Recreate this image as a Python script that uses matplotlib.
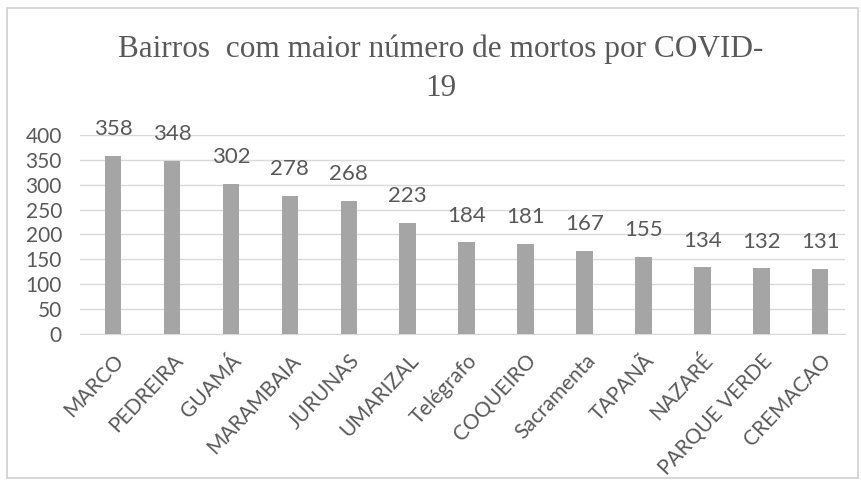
import matplotlib
matplotlib.use("Agg")
import matplotlib.pyplot as plt
from matplotlib.patches import Rectangle

bairros = ["MARCO", "PEDREIRA", "GUAMÁ", "MARAMBAIA", "JURUNAS", "UMARIZAL",
           "Telégrafo", "COQUEIRO", "Sacramenta", "TAPANÃ", "NAZARÉ",
           "PARQUE VERDE", "CREMACAO"]
mortos = [358, 348, 302, 278, 268, 223, 184, 181, 167, 155, 134, 132, 131]
yticks = [0, 50, 100, 150, 200, 250, 300, 350, 400]
titulo = "Bairros  com maior número de mortos por COVID-\n19"

text_color = "#595959"
bar_color = "#a5a5a5"
grid_color = "#d9d9d9"
label_font = ["Lato", "DejaVu Sans"]

fig = plt.figure(figsize=(8.62, 4.91), dpi=100)
fig.patch.set_facecolor("white")

# chart frame
fig.add_artist(Rectangle((7 / 862, 13 / 491), 851 / 862, 470 / 491,
                         transform=fig.transFigure, fill=False,
                         edgecolor="#d0d0d0", linewidth=1.2))

ax = fig.add_axes([80 / 862, 1 - 334 / 491, 765 / 862, 199 / 491])
x = list(range(len(bairros)))
ax.bar(x, mortos, width=0.28, color=bar_color, zorder=3)

for xi, v in zip(x, mortos):
    ax.annotate(str(v), (xi, v), xytext=(0, 12), textcoords="offset points",
                ha="center", va="bottom", fontsize=16, color=text_color,
                family=label_font, zorder=4)

ax.set_ylim(0, 400)
ax.set_xlim(-0.56, 12.42)
ax.set_yticks(yticks)
ax.set_yticklabels([str(t) for t in yticks], fontsize=15, color=text_color,
                   family=label_font)
ax.set_xticks(x)
ax.set_xticklabels(bairros, rotation=47, ha="right", rotation_mode="anchor",
                   fontsize=15, color=text_color, family=label_font)
ax.tick_params(axis="x", length=0, pad=12)
ax.tick_params(axis="y", length=0, pad=13)
ax.grid(axis="y", color=grid_color, linewidth=1, zorder=0)
for s in ["top", "right", "left"]:
    ax.spines[s].set_visible(False)
ax.spines["bottom"].set_color(grid_color)

fig.text(0.511, 0.929, titulo, ha="center", va="top", fontsize=22.5,
         color=text_color, family="Liberation Serif", linespacing=1.45)

fig.savefig("out.png", dpi=100, facecolor="white")
